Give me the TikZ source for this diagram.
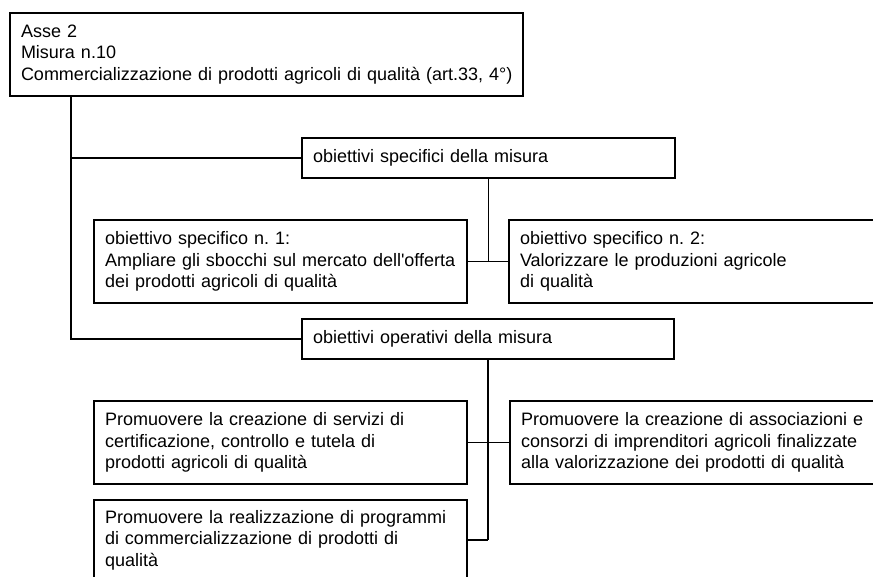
\documentclass[tikz,border=0pt]{standalone}
\usepackage{fontspec}
\setmainfont{Liberation Sans}
\begin{document}
\begin{tikzpicture}[x=1pt,y=1pt,
  box/.style={draw, line width=2pt, anchor=north west, inner xsep=11pt, inner ysep=0pt,
    align=left, font=\fontsize{18}{21.5}\selectfont},
  conn/.style={line width=1.9pt}]
\useasboundingbox (0,0) rectangle (873,-576);
\clip (0,0) rectangle (873,-576);
\fill[white] (0,0) rectangle (873,-576);
% boxes
\node[box, minimum width=513pt, minimum height=83pt, text width=491pt] (t) at (9,-12)
  {Asse 2\\Misura n.10\\\makebox[491pt][l]{Commercializzazione di prodotti agricoli di qualità (art.33, 4°)}};
\node[box, minimum width=373pt, minimum height=40pt, text width=351pt] (spec) at (301,-137)
  {obiettivi specifici della misura};
\node[box, minimum width=373pt, minimum height=83pt, text width=351pt] (o1) at (93,-219)
  {obiettivo specifico n.\ 1:\\Ampliare gli sbocchi sul mercato dell\textquotesingle offerta\\dei prodotti agricoli di qualità};
\node[box, minimum width=420pt, minimum height=83pt, text width=398pt] (o2) at (508,-219)
  {obiettivo specifico n.\ 2:\\Valorizzare le produzioni agricole\\di qualità};
\node[box, minimum width=372pt, minimum height=40pt, text width=350pt] (op) at (301,-318)
  {obiettivi operativi della misura};
\node[box, minimum width=373pt, minimum height=83pt, text width=351pt] (p1) at (93,-400)
  {Promuovere la creazione di servizi di\\certificazione, controllo e tutela di\\prodotti agricoli di qualità};
\node[box, minimum width=420pt, minimum height=83pt, text width=398pt] (p2) at (509,-400)
  {Promuovere la creazione di associazioni e\\consorzi di imprenditori agricoli finalizzate\\alla valorizzazione dei prodotti di qualità};
\node[box, minimum width=373pt, minimum height=80pt, text width=351pt] (p3) at (93,-499)
  {Promuovere la realizzazione di programmi\\di commercializzazione di prodotti di\\qualità};
% connectors
\coordinate (trunk) at ([xshift=62pt]t.south west);
\draw[conn] (trunk) |- (op.west);
\draw[conn] (spec.west) -- (spec.west -| trunk);
\draw[conn] (spec.south) -- (spec.south |- o1.east);
\draw[conn] (o1.east) -- (o2.west);
\draw[conn] (op.south) -- (op.south |- p3.east);
\draw[conn] (p1.east) -- (p2.west);
\draw[conn] (p3.east) -- (op.south |- p3.east);
\end{tikzpicture}
\end{document}
